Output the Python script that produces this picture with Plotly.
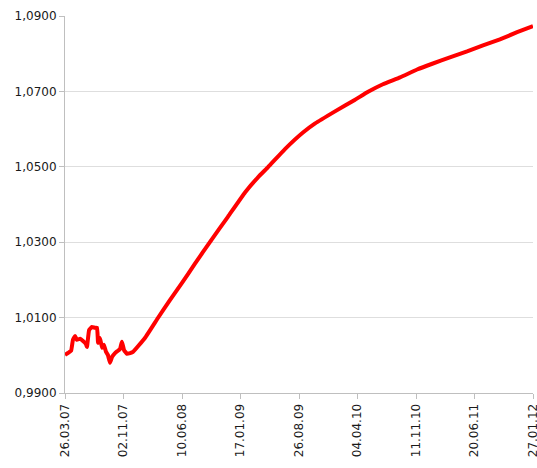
import pandas as pd
import plotly.graph_objects as go

start_date = "2007-03-26"
# days after start date of each sampled point
day_offsets = [0, 11, 23, 30, 38, 45, 57, 68, 79, 83, 91, 102, 113, 121, 125, 132,
               140, 147, 155, 162, 170, 178, 189, 200, 208, 215, 223, 234, 246, 257,
               302, 351, 397, 442, 491, 548, 616, 680, 729, 767, 831, 899, 945,
               1020, 1096, 1145, 1201, 1266, 1330, 1390, 1454, 1519, 1579, 1643, 1708, 1768]
values = [1.0001, 1.0006, 1.0012, 1.0041, 1.0051, 1.0041, 1.0044, 1.0038, 1.0030, 1.0022,
          1.0067, 1.0075, 1.0073, 1.0073, 1.0033, 1.0046, 1.0020, 1.0028, 1.0009, 1.0001,
          0.9980, 0.9996, 1.0006, 1.0012, 1.0017, 1.0036, 1.0014, 1.0004, 1.0006, 1.0009,
          1.0046, 1.0099, 1.0147, 1.0192, 1.0243, 1.0301, 1.0368, 1.0432, 1.0472, 1.0499,
          1.0547, 1.0591, 1.0615, 1.0647, 1.0678, 1.0699, 1.0719, 1.0737, 1.0758,
          1.0774, 1.0790, 1.0806, 1.0822, 1.0838, 1.0857, 1.0873]

tick_dates = ["2007-03-26", "2007-11-02", "2008-06-10", "2009-01-17", "2009-08-26",
              "2010-04-04", "2010-11-11", "2011-06-20", "2012-01-27"]
tick_labels = ["26.03.07", "02.11.07", "10.06.08", "17.01.09", "26.08.09",
               "04.04.10", "11.11.10", "20.06.11", "27.01.12"]
y_ticks = [0.99, 1.01, 1.03, 1.05, 1.07, 1.09]

dates = pd.Timestamp(start_date) + pd.to_timedelta(day_offsets, unit="D")

fig = go.Figure()
fig.add_trace(go.Scatter(
    x=dates, y=values, mode="lines",
    line=dict(color="#ff0000", width=4, shape="spline", smoothing=0.3),
    showlegend=False,
))

axis_font = dict(family="DejaVu Sans", size=12, color="#1a1a1a")
fig.update_layout(
    width=537, height=468,
    margin=dict(l=65, r=4, t=16, b=75),
    paper_bgcolor="white", plot_bgcolor="white",
    separators=", ",
    xaxis=dict(
        type="date",
        range=[tick_dates[0], tick_dates[-1]],
        tickvals=tick_dates, ticktext=tick_labels,
        tickangle=-90,
        ticks="outside", ticklen=5, tickcolor="#bfbfbf",
        showline=True, linecolor="#bfbfbf", linewidth=1,
        showgrid=False, zeroline=False,
        tickfont=axis_font,
        automargin=False,
        ticklabeloverflow="allow",
    ),
    yaxis=dict(
        range=[0.99, 1.09],
        tickvals=y_ticks, tickformat=".4f",
        ticks="outside", ticklen=5, tickcolor="#bfbfbf",
        showline=True, linecolor="#bfbfbf", linewidth=1,
        showgrid=True, gridcolor="#dedede", gridwidth=1,
        zeroline=False,
        tickfont=axis_font,
        automargin=False,
        ticklabeloverflow="allow",
    ),
)

fig.write_html(
    "out.html",
    config={"displayModeBar": False},
    post_script="document.body.style.margin='0';document.body.style.overflow='hidden';",
)
